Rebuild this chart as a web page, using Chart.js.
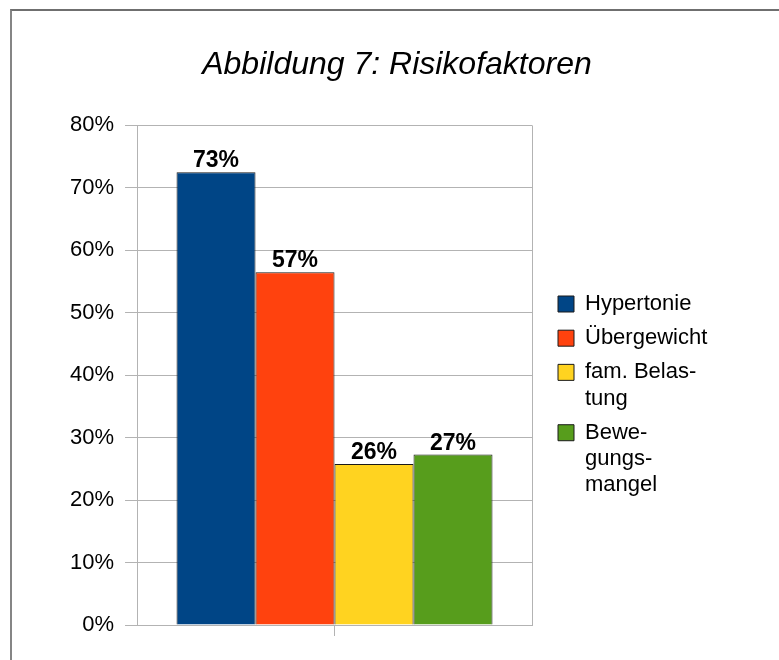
<!DOCTYPE html>
<html>
<head>
<meta charset="utf-8">
<script src="https://cdn.jsdelivr.net/npm/chart.js@4.4.1/dist/chart.umd.min.js"></script>
<style>
  html, body { margin: 0; padding: 0; background: #fff; overflow: hidden; }
  #wrap { position: relative; width: 779px; height: 660px; }
  #frame {
    position: absolute; left: 10px; top: 9px; width: 900px; height: 900px;
    border-left: 2px solid #858585; border-top: 2px solid #6f6f6f;
  }
  #chart { position: absolute; left: 0; top: 0; }
</style>
</head>
<body>
<div id="wrap">
  <div id="frame"></div>
  <canvas id="chart" width="779" height="660"></canvas>
</div>
<script>
// Abbildung 7 - share of patients per risk factor (in %)
const seriesNames = ['Hypertonie', 'Übergewicht', 'fam. Belastung', 'Bewegungsmangel'];
const legendLines = [['Hypertonie'], ['Übergewicht'], ['fam. Belas-', 'tung'], ['Bewe-', 'gungs-', 'mangel']];
const seriesValues = [72.5, 56.5, 25.8, 27.3];
const seriesColors = ['#004586', '#ff420e', '#ffd320', '#579d1c'];
const yTicks = [0, 10, 20, 30, 40, 50, 60, 70, 80];

const FONT = '"Liberation Sans", Arial, sans-serif';
const GRID = '#b3b3b3';
const LEGEND_W = 203;   // room kept right of the plot
const LEGEND_X = 558;   // left edge of the legend boxes
const LEGEND_Y = 293;   // top of the first legend row

// value labels on top of the bars
const barLabels = {
  id: 'barLabels',
  afterDatasetsDraw(chart) {
    const ctx = chart.ctx;
    ctx.save();
    ctx.font = 'bold 23px ' + FONT;
    ctx.fillStyle = '#000';
    ctx.textAlign = 'center';
    ctx.textBaseline = 'alphabetic';
    chart.data.datasets.forEach((ds, i) => {
      const bar = chart.getDatasetMeta(i).data[0];
      ctx.fillText(Math.round(ds.data[0]) + '%', bar.x, bar.y - 5);
    });
    ctx.restore();
  }
};

// right edge of the plot frame
const plotFrame = {
  id: 'plotFrame',
  beforeDatasetsDraw(chart) {
    const a = chart.chartArea;
    const ctx = chart.ctx;
    ctx.save();
    ctx.strokeStyle = GRID;
    ctx.lineWidth = 1;
    ctx.beginPath();
    ctx.moveTo(Math.round(a.right) + 0.5, a.top);
    ctx.lineTo(Math.round(a.right) + 0.5, a.bottom);
    ctx.stroke();
    ctx.restore();
  }
};

// give the legend a fixed width and put it where the original has it
const legendPlace = {
  id: 'legendPlace',
  beforeLayout(chart) {
    const lg = chart.legend;
    if (lg && !lg._fixed) {
      const fit = lg.fit.bind(lg);
      lg.fit = function () { fit(); this.width = LEGEND_W; };
      lg._fixed = true;
    }
  },
  afterLayout(chart) {
    const lg = chart.legend;
    const pad = lg.options.labels.padding;
    lg.left = LEGEND_X - pad;
    lg.right = lg.left + LEGEND_W;
    lg.top = LEGEND_Y - pad;
    lg.bottom = 650;
    lg.height = lg.bottom - lg.top;
  }
};

const ctx = document.getElementById('chart').getContext('2d');
new Chart(ctx, {
  type: 'bar',
  data: {
    labels: [''],
    datasets: seriesNames.map((name, i) => ({
      label: name,
      data: [seriesValues[i]],
      backgroundColor: seriesColors[i],
      borderColor: '#1a1a1a',
      borderWidth: 1,
      categoryPercentage: 0.8,
      barPercentage: 1.0
    }))
  },
  options: {
    responsive: false,
    animation: false,
    layout: { padding: { left: 59, right: 44, top: 36, bottom: 24 } },
    plugins: {
      title: {
        display: true,
        text: 'Abbildung 7: Risikofaktoren',
        color: '#000',
        font: { family: FONT, size: 32, style: 'italic', weight: 'normal', lineHeight: 1.2 },
        padding: { top: 10, bottom: 41 }
      },
      legend: {
        position: 'right',
        align: 'start',
        labels: {
          color: '#000',
          font: { family: FONT, size: 22, lineHeight: 1.19 },
          boxWidth: 16,
          boxHeight: 16,
          padding: 8,
          generateLabels(chart) {
            return chart.data.datasets.map((ds, i) => ({
              text: legendLines[i],
              fillStyle: seriesColors[i],
              strokeStyle: '#1a1a1a',
              fontColor: '#000',
              lineWidth: 1,
              hidden: false,
              datasetIndex: i
            }));
          }
        }
      },
      tooltip: { enabled: false }
    },
    scales: {
      x: {
        grid: { offset: false, drawOnChartArea: false, color: GRID, tickLength: 11 },
        border: { color: GRID },
        ticks: { display: false }
      },
      y: {
        min: 0,
        max: 80,
        afterBuildTicks(scale) { scale.ticks = yTicks.map(v => ({ value: v })); },
        grid: { color: GRID, tickLength: 12 },
        border: { color: GRID },
        ticks: {
          padding: 11,
          color: '#000',
          font: { family: FONT, size: 22 },
          callback: v => v + '%'
        }
      }
    }
  },
  plugins: [barLabels, plotFrame, legendPlace]
});
</script>
</body>
</html>
